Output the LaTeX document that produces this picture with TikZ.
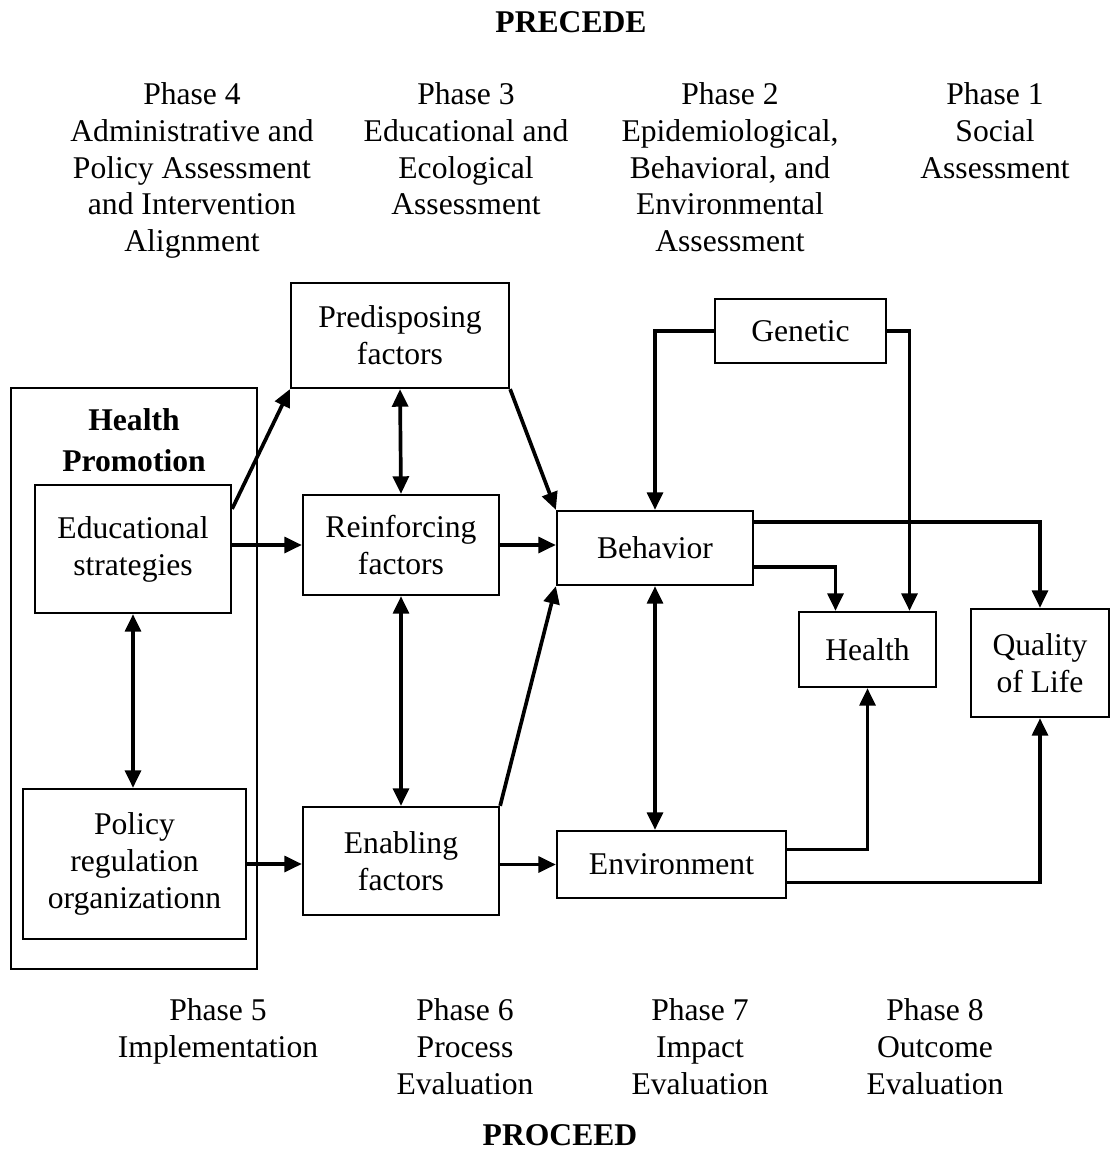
\documentclass[tikz,border=0pt]{standalone}
\usepackage{fontspec}
\setmainfont{Liberation Serif}
\usetikzlibrary{arrows.meta,calc}
\tikzset{
  caja/.style={draw, line width=1.3pt, align=center, inner sep=0pt},
  flecha/.style={line width=2.1pt, -{Triangle[length=10pt,width=9pt]}},
  doble/.style={line width=2.1pt, {Triangle[length=10pt,width=9pt]}-{Triangle[length=10pt,width=9pt]}},
  texto/.style={align=center, inner sep=0pt, anchor=north}
}
\begin{document}
\begin{tikzpicture}[x=0.02cm, y=-0.02cm, font=\fontsize{18}{21}\selectfont]
    \useasboundingbox (0,0) rectangle (1110,1150);
    % Titulos
    \node[font=\fontsize{18}{21}\selectfont\bfseries] (precede) at (571,22) {PRECEDE};
    \node[font=\fontsize{18}{21}\selectfont\bfseries] (proceed) at (560,1135) {PROCEED};
    % Fases arriba
    \node[texto] (f4) at (192,82) {Phase 4\\Administrative and\\Policy Assessment\\and Intervention\\Alignment};
    \node[texto] (f3) at (466,82) {Phase 3\\Educational and\\Ecological\\Assessment};
    \node[texto] (f2) at (730,82) {Phase 2\\Epidemiological,\\Behavioral, and\\Environmental\\Assessment};
    \node[texto] (f1) at (995,82) {Phase 1\\Social\\Assessment};
    % Fases abajo
    \node[texto] (f5) at (218,998) {Phase 5\\Implementation};
    \node[texto] (f6) at (465,998) {Phase 6\\Process\\Evaluation};
    \node[texto] (f7) at (700,998) {Phase 7\\Impact\\Evaluation};
    \node[texto] (f8) at (935,998) {Phase 8\\Outcome\\Evaluation};
    % Health Promotion
    \node[caja, minimum width=4.92cm, minimum height=11.62cm] (hp) at (134,678.5) {};
    \node[align=center, inner sep=0pt, font=\fontsize{18}{23.2}\selectfont\bfseries] (hptit) at (134,440) {Health\\Promotion};
    \node[caja, minimum width=3.92cm, minimum height=2.56cm] (edu) at (133,549) {Educational\\strategies};
    \node[caja, minimum width=4.46cm, minimum height=3cm] (pol) at (134.5,864) {Policy\\regulation\\organizationn};
    % Factores
    \node[caja, minimum width=4.36cm, minimum height=2.1cm] (pre) at (400,335.5) {Predisposing\\factors};
    \node[caja, minimum width=3.92cm, minimum height=2cm] (rei) at (401,545) {Reinforcing\\factors};
    \node[caja, minimum width=3.92cm, minimum height=2.16cm] (ena) at (401,861) {Enabling\\factors};
    % Resultados
    \node[caja, minimum width=3.42cm, minimum height=1.28cm] (gen) at (800.5,331) {Genetic};
    \node[caja, minimum width=3.92cm, minimum height=1.48cm] (beh) at (655,548) {Behavior};
    \node[caja, minimum width=4.58cm, minimum height=1.34cm] (env) at (671.5,864.5) {Environment};
    \node[caja, minimum width=2.74cm, minimum height=1.5cm] (hea) at (867.5,649.5) {Health};
    \node[caja, minimum width=2.76cm, minimum height=2.16cm] (qol) at (1040,663) {Quality\\of Life};
    % Flechas
    \draw[flecha] (edu.north east) ++(0,25) -- (pre.south west);
    \draw[flecha] (edu.east |- rei.west) -- (rei.west);
    \draw[doble] (edu.south) -- (edu.south |- pol.north);
    \draw[flecha] (pol.east) -- (pol.east -| ena.west);
    \draw[doble] (pre.south) -- (rei.north);
    \draw[doble] (rei.south) -- (ena.north);
    \draw[flecha] (pre.south east) -- (beh.north west);
    \draw[flecha] (rei.east) -- (rei.east -| beh.west);
    \draw[flecha] (ena.north east) -- (beh.south west);
    \draw[flecha] (ena.east |- env.west) -- (env.west);
    \draw[flecha] (gen.west) -| (beh.north);
    \draw[flecha] (gen.east) -| ($(hea.north)+(42,0)$);
    \draw[flecha] ($(beh.east)+(0,-26)$) -| (qol.north);
    \draw[flecha] ($(beh.east)+(0,19)$) -| ($(hea.north)+(-32,0)$);
    \draw[doble] (beh.south) -- (beh.south |- env.north);
    \draw[flecha] ($(env.east)+(0,-15)$) -| (hea.south);
    \draw[flecha] ($(env.east)+(0,18)$) -| (qol.south);
\end{tikzpicture}
\end{document}
